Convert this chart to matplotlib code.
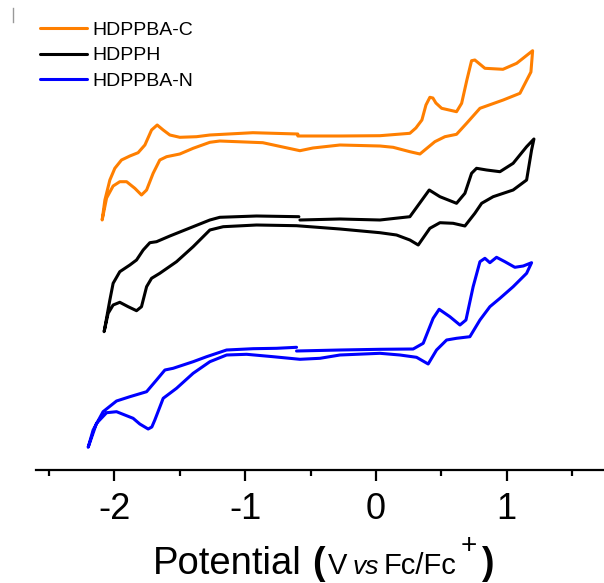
import matplotlib
matplotlib.use("Agg")
import matplotlib.pyplot as plt
from matplotlib.lines import Line2D
from matplotlib.ticker import MultipleLocator

plt.rcParams['font.family'] = ['Liberation Sans', 'DejaVu Sans']

# CV loops, each starts at -0.6 V, sweeps anodic, back cathodic, then back to -0.6 V
# potential in V vs Fc/Fc+, current in arbitrary units (curves already offset)
hdppba_c_v = [-0.597, -0.275, 0.031, 0.260, 0.306, 0.352, 0.383, 0.413, 0.436, 0.459,
              0.503, 0.617, 0.656, 0.696, 0.732, 0.757, 0.834, 0.972, 1.077, 1.199,
              1.186, 1.102, 0.974, 0.796, 0.694, 0.617, 0.528, 0.451, 0.337, 0.260,
              0.132, 0.031, -0.275, -0.482, -0.581, -0.865, -1.194, -1.270, -1.398,
              -1.500, -1.601, -1.653, -1.704, -1.754, -1.793, -1.844, -1.907, -1.959,
              -2.010, -2.060, -2.094,
              -2.073, -2.035, -1.997, -1.946, -1.882, -1.819, -1.767, -1.716, -1.673,
              -1.627, -1.576, -1.500, -1.372, -1.270, -0.941, -0.597]
hdppba_c_i = [3.34, 3.34, 3.343, 3.367, 3.42, 3.50, 3.65, 3.727, 3.72, 3.67,
              3.617, 3.583, 3.667, 3.90, 4.093, 4.10, 4.017, 4.007, 4.067, 4.193,
              3.98, 3.767, 3.70, 3.617, 3.467, 3.357, 3.333, 3.283, 3.16, 3.183,
              3.227, 3.24, 3.25, 3.22, 3.193, 3.273, 3.29, 3.277, 3.217,
              3.16, 3.133, 3.10, 2.967, 2.80, 2.75, 2.817, 2.883, 2.883,
              2.84, 2.72, 2.50,
              2.70, 2.90, 3.017, 3.10, 3.14, 3.173, 3.25, 3.40, 3.45,
              3.40, 3.35, 3.327, 3.333, 3.35, 3.373, 3.36]

hdpph_v = [-0.581, -0.275, 0.031, 0.260, 0.362, 0.408, 0.490, 0.617, 0.681, 0.732,
           0.770, 0.847, 0.949, 1.050, 1.153, 1.209,
           1.191, 1.153, 1.050, 0.897, 0.809, 0.757, 0.681, 0.591, 0.490, 0.413,
           0.324, 0.260, 0.158, 0.031, -0.275, -0.607, -0.913, -1.168, -1.270,
           -1.398, -1.525, -1.653, -1.716, -1.754, -1.793, -1.831, -1.895, -1.959,
           -2.010, -2.048, -2.079,
           -2.035, -2.010, -1.959, -1.882, -1.831, -1.780, -1.729, -1.678, -1.576,
           -1.448, -1.270, -1.194, -0.913, -0.589]
hdpph_i = [2.50, 2.51, 2.50, 2.533, 2.717, 2.80, 2.733, 2.667, 2.767, 2.967,
           3.017, 3.00, 2.983, 3.067, 3.233, 3.31,
           3.20, 2.90, 2.80, 2.733, 2.667, 2.567, 2.44, 2.467, 2.473, 2.417,
           2.25, 2.30, 2.35, 2.373, 2.41, 2.443, 2.45, 2.433, 2.40,
           2.233, 2.083, 1.967, 1.917, 1.833, 1.633, 1.593, 1.633, 1.677,
           1.65, 1.567, 1.383,
           1.70, 1.867, 1.983, 2.05, 2.10, 2.20, 2.273, 2.283, 2.34,
           2.407, 2.50, 2.527, 2.54, 2.533]

hdppba_n_v = [-0.607, -0.275, 0.031, 0.285, 0.362, 0.438, 0.484, 0.566, 0.643, 0.689,
              0.744, 0.796, 0.834, 0.872, 0.923, 0.987, 1.063, 1.127, 1.191,
              1.153, 1.050, 0.949, 0.872, 0.796, 0.719, 0.617, 0.541, 0.464, 0.400,
              0.311, 0.184, 0.031, -0.275, -0.428, -0.581, -0.786, -0.989, -1.142,
              -1.270, -1.398, -1.525, -1.627, -1.691, -1.714, -1.742, -1.806, -1.857,
              -1.984, -2.060, -2.137, -2.201,
              -2.163, -2.087, -1.984, -1.882, -1.754, -1.678, -1.614, -1.551, -1.398,
              -1.295, -1.142, -0.939, -0.760, -0.607]
hdppba_n_i = [1.19, 1.20, 1.207, 1.21, 1.267, 1.517, 1.607, 1.533, 1.45, 1.50,
              1.833, 2.083, 2.117, 2.073, 2.127, 2.083, 2.027, 2.04, 2.073,
              1.967, 1.833, 1.717, 1.633, 1.50, 1.333, 1.317, 1.30, 1.20, 1.06,
              1.127, 1.15, 1.167, 1.15, 1.117, 1.107, 1.133, 1.157, 1.15,
              1.083, 0.967, 0.817, 0.717, 0.50, 0.43, 0.41, 0.46, 0.517,
              0.583, 0.573, 0.467, 0.227,
              0.40, 0.583, 0.69, 0.733, 0.783, 0.90, 1.00, 1.017, 1.083,
              1.133, 1.20, 1.213, 1.217, 1.227]

labels = ["HDPPBA-C", "HDPPH", "HDPPBA-N"]
colors = ["#FF7F00", "#000000", "#0000FF"]

fig = plt.figure(figsize=(6.04, 5.83), dpi=100)
ax = fig.add_axes([36 / 604, (583 - 470) / 583, 1 - 36 / 604, 470 / 583])

series = [(hdppba_c_v, hdppba_c_i), (hdpph_v, hdpph_i), (hdppba_n_v, hdppba_n_i)]
for (v, i), lab, c in zip(series, labels, colors):
    ax.plot(v, i, color=c, lw=2.2, label=lab, solid_joinstyle="round",
            solid_capstyle="round")

ax.set_xlim(-2.6, 1.745)
ax.set_ylim(0, 4.70)

for s in ["left", "right", "top"]:
    ax.spines[s].set_visible(False)
ax.spines["bottom"].set_linewidth(1.6)
ax.set_yticks([])
ax.xaxis.set_major_locator(MultipleLocator(1))
ax.xaxis.set_minor_locator(MultipleLocator(0.5))
ax.set_xticks([-2, -1, 0, 1])
ax.set_xticklabels(["-2", "-1", "0", "1"])
ax.tick_params(axis="x", which="major", direction="out", length=8, width=1.6,
               labelsize=26, pad=8)
ax.tick_params(axis="x", which="minor", direction="out", length=4.5, width=1.6)

# axis title in pieces (mixed sizes / styles)
def px(x, y):
    return x / 604, (583 - y) / 583

base = 574
fig.text(*px(153, base), "Potential", fontsize=27.5, va="baseline")
fig.text(*px(312, base), "(", fontsize=27, fontweight="bold", va="baseline")
fig.text(*px(328, base), "V", fontsize=21, va="baseline")
fig.text(*px(353, base), "vs", fontsize=19, style="italic", va="baseline")
fig.text(*px(384, base), "Fc/Fc", fontsize=21, va="baseline")
fig.text(*px(461, base - 21), "+", fontsize=20, va="baseline")
fig.text(*px(481, base), ")", fontsize=27, fontweight="bold", va="baseline")

leg = ax.legend(loc="upper left", bbox_to_anchor=(40 / 604, 1 - 21 / 583),
                bbox_transform=fig.transFigure, frameon=False, fontsize=14,
                borderpad=0, borderaxespad=0, handlelength=2.42,
                handletextpad=0.26, labelspacing=0.42)
for h in leg.get_lines():
    h.set_linewidth(2.2)

# small leftover axis mark at the top-left corner
fig.add_artist(Line2D([12.7 / 604, 12.7 / 604], [1 - 8 / 583, 1 - 22 / 583],
                      color="#999999", lw=1))

fig.savefig("out.png", dpi=100)
